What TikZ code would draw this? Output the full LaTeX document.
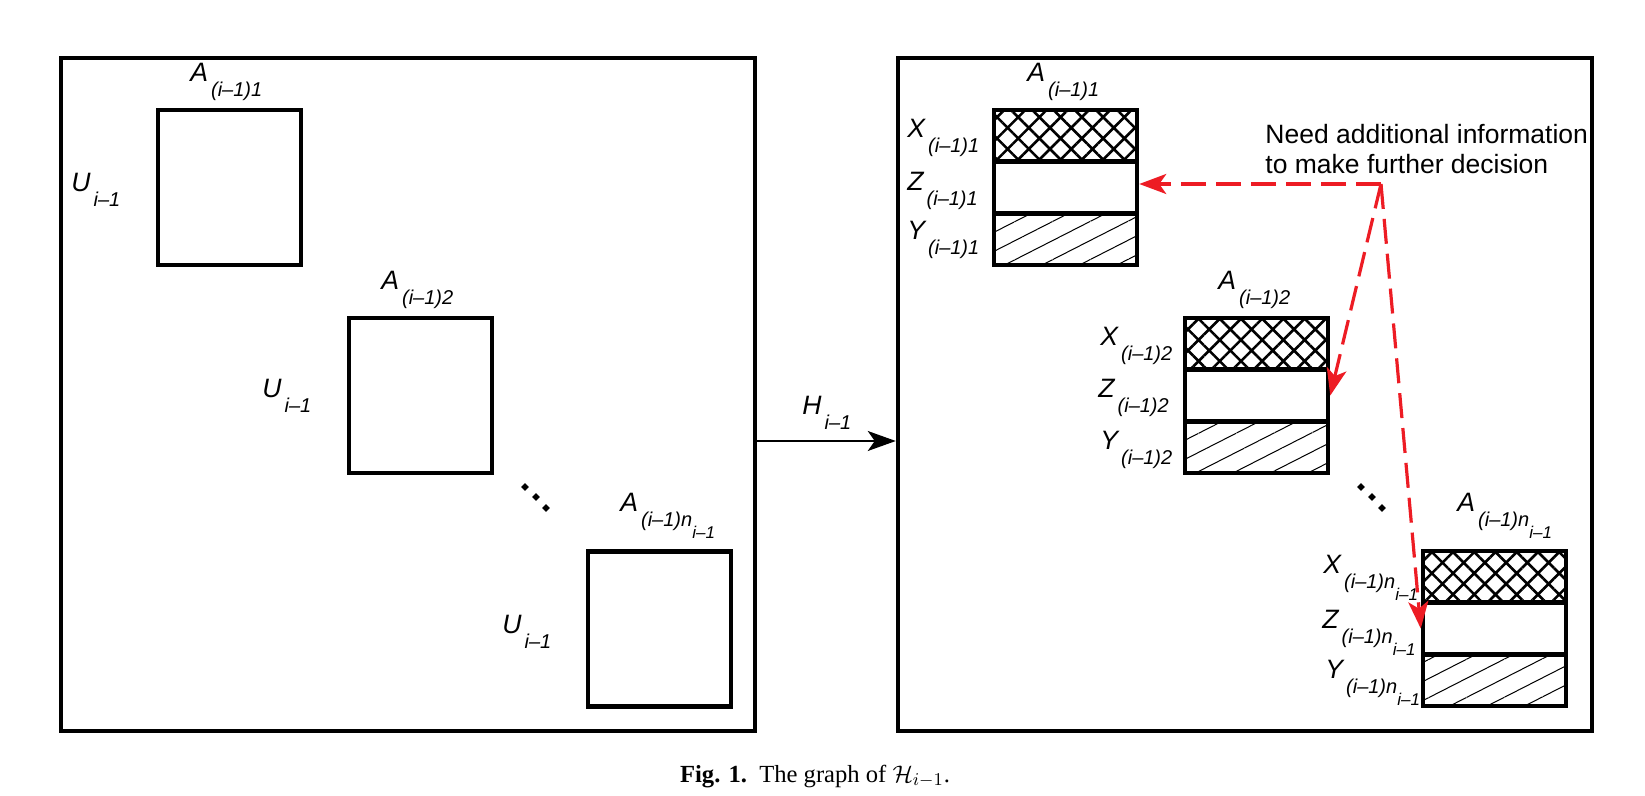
\documentclass[tikz,border=0pt]{standalone}
\usepackage{fontspec}
\setsansfont{Liberation Sans}
\newfontfamily\capfont{Liberation Serif}
\usetikzlibrary{arrows.meta,patterns.meta,shapes.geometric}
\definecolor{dashred}{RGB}{237,28,36}
\newcommand{\sublbl}[2]{#1\hspace{1.5pt}\raisebox{-7.5pt}{\fontsize{10}{12}\selectfont #2}}
\newcommand{\nsub}{(i–1)n\raisebox{-6pt}{\fontsize{8.5}{10}\selectfont i–1}}
\begin{document}
\begin{tikzpicture}
	[x=0.5pt,y=-0.5pt,
	frame/.style={draw,line width=2.25pt,minimum width=347pt,minimum height=336.5pt,inner sep=0pt},
	block/.style={draw,line width=2.25pt,minimum width=71.5pt,minimum height=77.5pt,inner sep=0pt},
	part/.style={draw,line width=2.25pt,minimum width=71.5pt,minimum height=25.85pt,inner sep=0pt},
	crossed/.style={pattern={Hatch[angle=45,distance=7.5pt,line width=1.3pt]}},
	lined/.style={pattern={Lines[angle=27,distance=8.5pt,line width=0.5pt]}},
	lbl/.style={anchor=base west,inner sep=0pt,font=\sffamily\itshape\fontsize{13.3}{15}\selectfont},
	dot/.style={diamond,fill,inner sep=0pt,minimum size=4pt},
	redarrow/.style={color=dashred,line width=1.6pt,dash pattern=on 12.5pt off 5pt,-{Stealth[length=13.5pt,width=10pt,inset=3.5pt]}}]
	\useasboundingbox (0,0) rectangle (1645,796);
	% left panel
	\node[frame] (lbox) at (408,394.5) {};
	\node[block] (a1) at (229.5,187.5) {};
	\node[block] (a2) at (420.5,395.5) {};
	\node[block] (a3) at (659.5,629) {};
	\node[lbl] (a1-lbl) at (190,82) {\sublbl{A}{(i–1)1}};
	\node[lbl] (a2-lbl) at (381,290) {\sublbl{A}{(i–1)2}};
	\node[lbl] (a3-lbl) at (620,512) {\sublbl{A}{\nsub}};
	\node[lbl] (u1-lbl) at (71,192) {\sublbl{U}{i–1}};
	\node[lbl] (u2-lbl) at (262,398) {\sublbl{U}{i–1}};
	\node[lbl] (u3-lbl) at (502,633) {\sublbl{U}{i–1}};
	% right panel
	\node[frame] (rbox) at (1245,394.5) {};
	\foreach \k/\cx/\cy in {1/1065.5/187.5,2/1256.5/395.5,3/1494.5/628.5}{
		\node[part,crossed] (x\k) at (\cx,\cy-51.7) {};
		\node[part] (z\k) at (\cx,\cy) {};
		\node[part,lined] (y\k) at (\cx,\cy+51.7) {};
	}
	\node[lbl] (b1-lbl) at (1027,82) {\sublbl{A}{(i–1)1}};
	\node[lbl] (b2-lbl) at (1218,290) {\sublbl{A}{(i–1)2}};
	\node[lbl] (b3-lbl) at (1457,512) {\sublbl{A}{\nsub}};
	\node[lbl] (x1-lbl) at (907,138) {\sublbl{X}{(i–1)1}};
	\node[lbl] (z1-lbl) at (907,191) {\sublbl{Z}{(i–1)1}};
	\node[lbl] (y1-lbl) at (907,240) {\sublbl{Y}{(i–1)1}};
	\node[lbl] (x2-lbl) at (1100,346) {\sublbl{X}{(i–1)2}};
	\node[lbl] (z2-lbl) at (1098,398) {\sublbl{Z}{(i–1)2}};
	\node[lbl] (y2-lbl) at (1100,450) {\sublbl{Y}{(i–1)2}};
	\node[lbl] (x3-lbl) at (1323,574) {\sublbl{X}{\nsub}};
	\node[lbl] (z3-lbl) at (1322,628) {\sublbl{Z}{\nsub}};
	\node[lbl] (y3-lbl) at (1325,678) {\sublbl{Y}{\nsub}};
	% dots
	\foreach \off in {0,836}
		\foreach \px/\py [count=\i] in {525/487,536/497,546/508}
			\node[dot] (dot-\off-\i) at (\px+\off,\py) {};
	% map between the panels
	\coordinate (hrow) at (0,441);
	\draw[line width=0.75pt,-{Stealth[length=14pt,width=10pt,inset=3.5pt]}] (lbox.east |- hrow) -- (rbox.west |- hrow);
	\node[lbl] (h-lbl) at (802,415) {\sublbl{H}{i–1}};
	% note and red arrows
	\node[anchor=north west,align=left,inner sep=0pt,font=\sffamily\fontsize{13.25}{15}\selectfont] (info) at (1265,124) {Need additional information\\to make further decision};
	\coordinate (fork) at (1381,184);
	\draw[redarrow] (fork) -- (z1.east |- fork);
	\draw[redarrow] (fork) -- (z2.east);
	\draw[redarrow] (fork) -- (z3.west);
	% caption
	\node[anchor=base,inner sep=0pt,font=\capfont\fontsize{12.3}{14}\selectfont] (caption) at (815,782) {\textbf{Fig. 1.}\enspace The graph of $\mathcal{H}_{i-1}$.};
\end{tikzpicture}
\end{document}
